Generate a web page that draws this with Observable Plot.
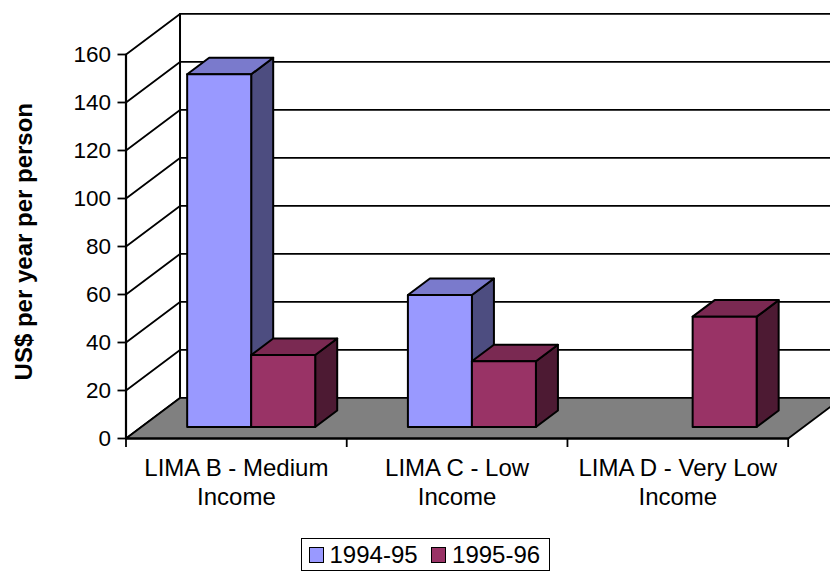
<!DOCTYPE html>
<html>
<head>
<meta charset="utf-8">
<script src="https://cdn.jsdelivr.net/npm/d3@7"></script>
<script src="https://cdn.jsdelivr.net/npm/@observablehq/plot@0.6"></script>
<style>
html,body{margin:0;padding:0;background:#fff;overflow:hidden}
#legend{position:relative;box-sizing:border-box;margin:8px 0 0 301px;width:249px;height:33px;border:1.6px solid #000;display:flex;align-items:center;font:24px "Liberation Sans",Arial,sans-serif;color:#000;padding-left:6.5px;white-space:nowrap}
#legend i{display:inline-block;flex:none;box-sizing:border-box;width:15px;height:16px;border:1.8px solid #000;margin-right:6px}
#legend span{flex:none;margin-right:13.5px;line-height:1}
</style>
</head>
<body>
<div id="chart"></div>
<div id="legend"></div>
<script>
const categories = ["LIMA B - Medium\nIncome", "LIMA C - Low\nIncome", "LIMA D - Very Low\nIncome"];
const seriesNames = ["1994-95", "1995-96"];
const values9495 = [147, 55, null];
const values9596 = [30, 27.4, 46];
const valueTicks = [0, 20, 40, 60, 80, 100, 120, 140, 160];
const categoryEdges = [0, 1, 2, 3];
const categoryCentres = [0.5, 1.5, 2.5];
const yLabel = "US$ per year per person";

const frontColors = ["#9999FF", "#993366"];
const topColors = ["#7A7ACC", "#7A2952"];
const sideColors = ["#4D4D80", "#4D1A33"];

// oblique 3D projection: depth 0 = front plane, depth 1 = back wall
const depthX = 0.2447, depthY = 16.9;
const px = (c, d) => c + d * depthX;
const py = (v, d) => v + d * depthY;
const barW = 0.29, d0 = 0.2825, d1 = 0.69, nudge = -0.002;

const faces = [];
let id = 0;
function face(tone, pts) {
  id++;
  for (const [c, v, d] of pts) faces.push({id, tone, x: px(c, d), y: py(v, d)});
}
[values9495, values9596].forEach((vals, s) => {
  vals.forEach((v, i) => {
    if (v == null) return;
    const a = i + 0.5 + nudge - barW + s * barW, b = a + barW;
    face(sideColors[s], [[b,0,d0],[b,0,d1],[b,v,d1],[b,v,d0]]);
    face(topColors[s], [[a,v,d0],[b,v,d0],[b,v,d1],[a,v,d1]]);
    face(frontColors[s], [[a,0,d0],[b,0,d0],[b,v,d0],[a,v,d0]]);
  });
});

const xMax = (830 - 125.5) / 220.73;
const floor = [[0,0,0],[3,0,0],[3,0,1],[0,0,1]].map(([c,v,d]) => ({x: px(c,d), y: py(v,d)}));
const sideGrid = valueTicks.flatMap(v => [{v, x: px(0,0), y: py(v,0)}, {v, x: px(0,1), y: py(v,1)}]);
const backGrid = valueTicks.flatMap(v => [{v, x: px(0,1), y: py(v,1)}, {v, x: xMax + 0.1, y: py(v,1)}]);
const backEdge = [{x: px(0,1), y: py(0,1)}, {x: px(0,1), y: py(160,1)}];
const frontEdge = [{x: 0, y: 0}, {x: 0, y: 160}];
const baseEdge = [{x: 0, y: 0}, {x: 3, y: 0}];

const plot = Plot.plot({
  width: 830,
  height: 530,
  marginLeft: 125.5,
  marginRight: 0,
  marginTop: 12.5,
  marginBottom: 92,
  style: {fontFamily: '"Liberation Sans",Arial,sans-serif', background: "#fff", color: "#000"},
  x: {domain: [0, xMax], axis: null},
  y: {domain: [0, 160 + 41.5 / 2.4], axis: null},
  color: {type: "identity"},
  marks: [
    Plot.line(backGrid, {x: "x", y: "y", z: "v", stroke: "#000", strokeWidth: 1.8}),
    Plot.line(sideGrid, {x: "x", y: "y", z: "v", stroke: "#000", strokeWidth: 1.8}),
    Plot.line(backEdge, {x: "x", y: "y", stroke: "#000", strokeWidth: 2}),
    Plot.line(floor, {x: "x", y: "y", curve: "linear-closed", fill: "#808080", stroke: "#000", strokeWidth: 1.8}),
    Plot.line(frontEdge, {x: "x", y: "y", stroke: "#000", strokeWidth: 2.2}),
    Plot.line(baseEdge, {x: "x", y: "y", stroke: "#000", strokeWidth: 2.2}),
    Plot.line(faces, {x: "x", y: "y", z: "id", fill: "tone", curve: "linear-closed", stroke: "#000", strokeWidth: 2, strokeLinejoin: "round"}),
    Plot.axisY({ticks: valueTicks, anchor: "left", tickSize: 8, tickPadding: 7, label: null, fontSize: 22.5, strokeWidth: 1.8, stroke: "#000"}),
    Plot.axisX({ticks: categoryEdges, anchor: "bottom", tickSize: 9, tickFormat: () => "", label: null, strokeWidth: 1.8, stroke: "#000"}),
    Plot.axisX({ticks: categoryCentres, anchor: "bottom", tickSize: 0, tickPadding: 17, tickFormat: d => categories[Math.floor(d)], label: null, fontSize: 24, lineHeight: 1.21, lineWidth: 20}),
    Plot.text([yLabel], {text: d => d, x: () => 0, y: () => 82, dx: -102, rotate: -90, fontWeight: "bold", fontSize: 24, fill: "#000"})
  ]
});
document.getElementById("chart").appendChild(plot);

const legend = document.getElementById("legend");
seriesNames.forEach((n, i) => {
  const sw = document.createElement("i");
  sw.style.background = frontColors[i];
  const t = document.createElement("span");
  t.textContent = n;
  legend.append(sw, t);
});
</script>
</body>
</html>
